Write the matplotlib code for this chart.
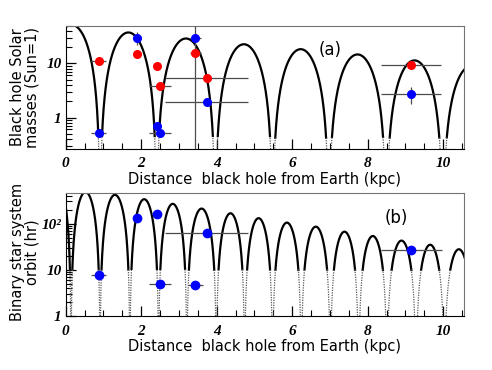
import numpy as np
import matplotlib
matplotlib.use('Agg')
import matplotlib.pyplot as plt
from matplotlib.ticker import FixedLocator, LogLocator, NullFormatter, MultipleLocator

# panel (a): black hole masses
red_x = [0.87, 1.88, 2.41, 2.50, 3.43, 3.74, 9.15]
red_y = [10.9, 14.9, 8.9, 3.85, 15.3, 5.3, 9.3]
red_xerr = [0.2, 0.05, 0.1, 0.29, 0.15, 1.1, 0.8]

blue_x = [0.87, 1.88, 2.41, 2.50, 3.43, 3.74, 9.15]
blue_y = [0.51, 29.0, 0.71, 0.51, 29.8, 1.92, 2.7]
blue_xerr = [0.2, 0.1, 0.08, 0.3, 0.15, 1.1, 0.8]
blue_ylo = [0.51, 22.0, 0.63, 0.51, 0.25, 1.92, 1.76]
blue_yhi = [0.51, 38.0, 0.80, 0.51, 50.0, 1.92, 3.6]

# panel (b): orbital periods
orb_x = [0.87, 1.88, 2.41, 2.50, 3.43, 3.74, 9.16]
orb_y = [7.7, 135, 160, 5.0, 4.8, 62, 26.6]
orb_xerr = [0.2, 0.0, 0.0, 0.3, 0.2, 1.1, 0.8]

# lobes of the oscillating curves: zero crossings and peak heights
a_zeros = [-0.60, 0.91, 2.41, 3.96, 5.48, 6.97, 8.49, 9.99, 11.5]
a_peaks = [52, 37.5, 29, 22.7, 18.4, 14.7, 11.4, 9.0]
b_zeros = [-0.63, 0.14, 0.91, 1.70, 2.46, 3.21, 3.99, 4.74, 5.48, 6.24,
           7.01, 7.76, 8.51, 9.28, 10.03, 10.80]
b_peaks = [800, 480, 417, 336, 267, 211, 167, 131, 105, 86, 67, 54, 43, 35, 28]

xlabel = 'Distance  black hole from Earth (kpc)'
tickfont = dict(family='Liberation Serif', weight='bold', style='italic', size=11)


def draw_lobes(ax, zeros, peaks, thr):
    for i in range(len(peaks)):
        z0, z1 = zeros[i], zeros[i + 1]
        xs = np.linspace(z0, z1, 600)
        ys = peaks[i] * np.sin(np.pi * (xs - z0) / (z1 - z0)) ** 2
        ys = np.maximum(ys, 1e-4)
        hi = np.ma.masked_where(ys < thr, ys)
        lo = np.ma.masked_where(ys > thr * 1.05, ys)
        ax.plot(xs, hi, color='black', lw=1.6, zorder=2)
        ax.plot(xs, lo, color='0.35', lw=0.9, ls=(0, (1, 1)), zorder=2)


def style_axis(ax, ylim, yticks, ylabels):
    ax.set_xlim(0, 10.55)
    ax.set_yscale('log')
    ax.set_ylim(*ylim)
    ax.xaxis.set_major_locator(MultipleLocator(2))
    ax.xaxis.set_minor_locator(MultipleLocator(0.5))
    ax.yaxis.set_major_locator(FixedLocator(yticks))
    ax.yaxis.set_minor_locator(LogLocator(base=10, subs=np.arange(2, 10)))
    ax.yaxis.set_minor_formatter(NullFormatter())
    ax.set_yticklabels(ylabels, fontdict=tickfont)
    ax.set_xticks([0, 2, 4, 6, 8, 10])
    ax.set_xticklabels(['0', '2', '4', '6', '8', '10'], fontdict=tickfont)
    ax.tick_params(which='both', direction='in', top=False, right=False)
    ax.tick_params(which='major', length=7, width=0.9, pad=3)
    ax.tick_params(which='minor', length=4, width=0.8)
    ax.tick_params(axis='x', pad=6)
    ax.spines['top'].set_color('0.45')
    ax.spines['right'].set_color('0.45')
    ax.set_xlabel(xlabel, fontsize=10.5, labelpad=1)


fig = plt.figure(figsize=(4.92, 3.70), dpi=100)
ax1 = fig.add_axes([0.1335, 0.597, 0.8095, 0.3335])
ax2 = fig.add_axes([0.1335, 0.145, 0.8095, 0.3325])

# panel (a)
draw_lobes(ax1, a_zeros, a_peaks, 0.42)
ax1.errorbar(red_x, red_y, xerr=red_xerr, fmt='o', color='red', ms=5.5,
             ecolor='0.3', elinewidth=0.9, capsize=0, zorder=4)
ylo = [y - lo for y, lo in zip(blue_y, blue_ylo)]
yhi = [hi - y for y, hi in zip(blue_y, blue_yhi)]
ax1.errorbar(blue_x, blue_y, xerr=blue_xerr, yerr=[ylo, yhi], fmt='o', color='blue',
             ms=5.5, ecolor='0.3', elinewidth=0.9, capsize=0, zorder=4)
style_axis(ax1, (0.26, 50), [1, 10], ['1', '10'])
ax1.text(0.664, 0.805, '(a)', transform=ax1.transAxes, fontsize=12, ha='center', va='center')

# panel (b)
draw_lobes(ax2, b_zeros, b_peaks, 10)
ax2.errorbar(orb_x, orb_y, xerr=orb_xerr, fmt='o', color='blue', ms=6,
             ecolor='0.3', elinewidth=0.9, capsize=0, zorder=4)
style_axis(ax2, (1, 450), [1, 10, 100], ['1', '10', '10²'])
ax2.text(0.829, 0.797, '(b)', transform=ax2.transAxes, fontsize=12, ha='center', va='center')

fig.text(25 / 492, 1 - 87.5 / 370, 'Black hole Solar\nmasses (Sun=1)', rotation=90,
         ha='center', va='center', multialignment='center', fontsize=10.5, linespacing=0.95)
fig.text(25 / 492, 1 - 252 / 370, 'Binary star system\norbit (hr)', rotation=90,
         ha='center', va='center', multialignment='center', fontsize=10.5, linespacing=0.95)

fig.savefig('out.png', dpi=100)
